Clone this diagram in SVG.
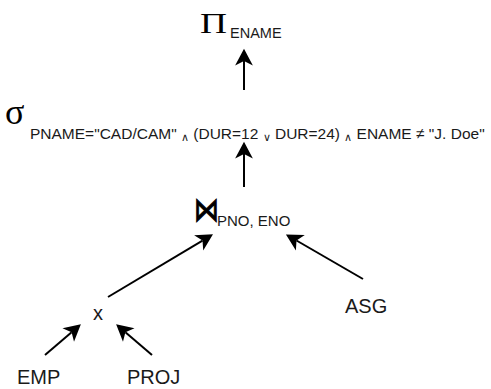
<svg xmlns="http://www.w3.org/2000/svg" width="491" height="389" viewBox="0 0 491 389">
<style>
.t{font-family:"Liberation Sans",Arial,sans-serif;fill:#1a1a1a}
.g{font-family:"Liberation Serif","Times New Roman",serif;fill:#000}
.c{stroke:#000;stroke-width:2;fill:none}
</style>
<defs>
<marker id="ah" markerUnits="userSpaceOnUse" markerWidth="20" markerHeight="20" viewBox="-5 -9 17 18" refX="0" refY="0" orient="auto">
<path d="M-4,-8 L11,0 L-4,8 L0,0 Z" fill="#000"/>
</marker>
</defs>
<g id="proj">
<text class="g" x="200" y="33" font-size="30" textLength="27" lengthAdjust="spacingAndGlyphs">Π</text>
<text class="t" x="230" y="38" font-size="14.5">ENAME</text>
</g>
<g id="select">
<text class="g" x="5" y="124" font-size="36">σ</text>
<text class="t" x="30" y="139" font-size="15.5">PNAME="CAD/CAM" <tspan font-size="11" dy="2">∧</tspan><tspan dy="-2"> (DUR=12 </tspan><tspan font-size="11" dy="2">∨</tspan><tspan dy="-2"> DUR=24) </tspan><tspan font-size="11" dy="2">∧</tspan><tspan dy="-2"> ENAME ≠ "J. Doe"</tspan></text>
</g>
<g id="join">
<text transform="translate(194,221) scale(1.05,1.4)" font-size="24" font-family="DejaVu Sans,sans-serif" stroke="#000" stroke-width="0.7">⋈</text>
<text class="t" x="217" y="226" font-size="15">PNO, ENO</text>
</g>
<g id="cross">
<text class="t" x="93" y="320" font-size="20">x</text>
</g>
<g id="asg"><text class="t" x="345" y="313" font-size="20">ASG</text></g>
<g id="emp"><text class="t" x="17" y="384" font-size="20">EMP</text></g>
<g id="projrel"><text class="t" x="127" y="384" font-size="20">PROJ</text></g>
<g id="connectors">
<line class="c" x1="244" y1="90" x2="244" y2="61" marker-end="url(#ah)"/>
<line class="c" x1="244" y1="187" x2="244" y2="154" marker-end="url(#ah)"/>
<line class="c" x1="108" y1="297" x2="202.5" y2="240.6" marker-end="url(#ah)"/>
<line class="c" x1="363" y1="279" x2="296.5" y2="240.5" marker-end="url(#ah)"/>
<line class="c" x1="45" y1="355" x2="71.6" y2="332.2" marker-end="url(#ah)"/>
<line class="c" x1="152" y1="355" x2="125.4" y2="332.2" marker-end="url(#ah)"/>
</g>
</svg>
